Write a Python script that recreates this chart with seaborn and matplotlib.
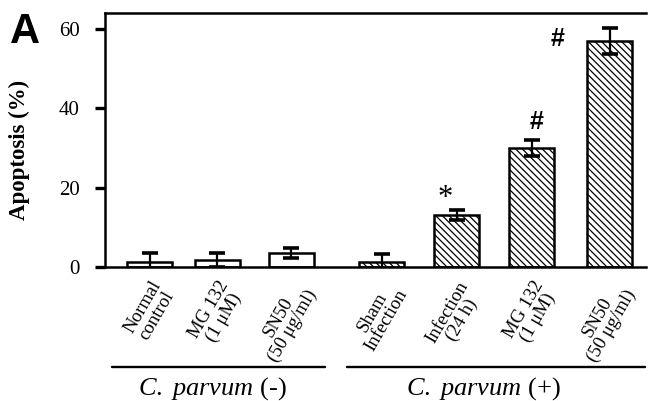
import numpy as np
import pandas as pd
import matplotlib
matplotlib.use("Agg")
import matplotlib.pyplot as plt
from matplotlib.lines import Line2D
import seaborn as sns

# values (% apoptotic cells)
conditions = ["Normal\ncontrol", "MG 132\n(1 μM)", "SN50\n(50 μg/ml)",
              "Sham\nInfection", "Infection\n(24 h)", "MG 132\n(1 μM)", "SN50\n(50 μg/ml)"]
apoptosis = [1.3, 1.7, 3.6, 1.3, 13.1, 30.0, 56.9]
sem = [2.2, 1.8, 1.2, 2.0, 1.2, 2.0, 3.3]
infected = [False, False, False, True, True, True, True]
marks = ["", "", "", "", "*", "#", "#"]
groups = ["C. parvum", "C. parvum"]
group_signs = ["(-)", "(+)"]

# layout (x position of each bar, with a gap between the two groups)
x_pos = [0, 0.9, 1.88, 3.09, 4.09, 5.09, 6.13]

sns.set_theme(style="white")
plt.rcParams["font.family"] = ["Liberation Serif", "DejaVu Serif"]
plt.rcParams["mathtext.fontset"] = "custom"
plt.rcParams["mathtext.it"] = "Liberation Serif:italic"
plt.rcParams["mathtext.rm"] = "Liberation Serif"
plt.rcParams["hatch.linewidth"] = 0.9
plt.rcParams["hatch.color"] = "black"
for key in ["text.color", "axes.labelcolor", "xtick.color", "ytick.color"]:
    plt.rcParams[key] = "black"

df = pd.DataFrame({"x": x_pos, "apoptosis": apoptosis})

fig = plt.figure(figsize=(6.48, 4.01), dpi=100)
ax = fig.add_axes([0.162, 0.334, 0.835, 0.634])

sns.barplot(data=df, x="x", y="apoptosis", native_scale=True, width=0.6 / 0.9,
            color="white", edgecolor="black", linewidth=1.8, errorbar=None, ax=ax)
for patch, inf in zip(ax.patches, infected):
    patch.set_facecolor("white")
    if inf:
        patch.set_hatch("\\\\\\\\\\")

ax.errorbar(x_pos, apoptosis, yerr=sem, fmt="none", ecolor="black",
            elinewidth=1.6, capsize=5.5, capthick=2.6, zorder=5)

for x, y, e, m in zip(x_pos, apoptosis, sem, marks):
    if m == "*":
        ax.text(x - 0.15, y + e + 3.0, m, ha="center", va="center", fontsize=22)
    elif m == "#" and y < 40:
        ax.text(x + 0.06, y + e + 4.5, m, ha="center", va="center", fontsize=18,
                family="Liberation Sans", fontweight="bold")
    elif m == "#":
        ax.text(x - 0.7, y + 0.5, m, ha="center", va="center", fontsize=18,
                family="Liberation Sans", fontweight="bold")

ax.set_xlim(-0.6, 6.613)
ax.set_ylim(0, 64)
ax.set_yticks([0, 20, 40, 60])
ax.set_xticks(x_pos)
ax.set_xticklabels(conditions, rotation=60, ha="right", va="top",
                   rotation_mode="anchor", multialignment="center",
                   fontsize=13.5, linespacing=0.95)
ax.set_xlabel("")
ax.set_ylabel("Apoptosis (%)", fontsize=16.5, fontweight="bold")
ax.yaxis.set_label_coords(-0.139, 0.46)
ax.tick_params(axis="y", direction="out", length=7, width=2.4, pad=11,
               labelsize=15, left=True)
ax.tick_params(axis="x", length=0, pad=8)

for side in ["left", "bottom", "top"]:
    ax.spines[side].set_visible(True)
    ax.spines[side].set_color("black")
    ax.spines[side].set_linewidth(1.8)
ax.spines["right"].set_visible(False)

# group brackets below the tick labels
group_spans = [(112, 325), (347, 645)]
text_x = [212, 483]
for (x0, x1), tx, g, s in zip(group_spans, text_x, groups, group_signs):
    fig.add_artist(Line2D([x0 / 648, x1 / 648], [1 - 367 / 401] * 2,
                          transform=fig.transFigure, color="black", lw=1.7))
    fig.text(tx / 648, 1 - 389 / 401, r"$\mathit{" + g.replace(" ", r"\ ") + "}$ " + s,
             ha="center", va="center", fontsize=19)

fig.text(10 / 648, 1 - 43 / 401, "A", ha="left", va="baseline", fontsize=30,
         family="Liberation Sans", fontweight="bold")

fig.savefig("out.png", dpi=100)
